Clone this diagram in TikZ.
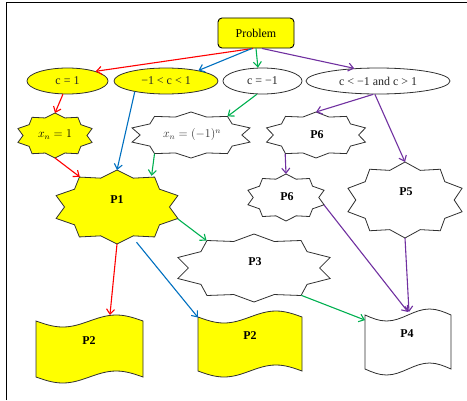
\documentclass[tikz,border=0pt]{standalone}
\usepackage{fontspec}
\setmainfont{Liberation Serif}
\usetikzlibrary{shapes.geometric,arrows.meta}
\definecolor{cred}{HTML}{FF0000}
\definecolor{cblue}{HTML}{0070C0}
\definecolor{cgreen}{HTML}{00B050}
\definecolor{cpurple}{HTML}{7030A0}
\definecolor{cyel}{HTML}{FFFF00}
\definecolor{edgec}{HTML}{303030}
% ten-point burst: cx cy rx ry style
\newcommand\burst[5]{%
  \filldraw[#5] ({#1},{#2+#4})
  \foreach \k in {1,...,19}{ -- ({#1+#3*(0.91+0.09*cos(180*\k))*cos(90+18*\k)},{#2+#4*(0.91+0.09*cos(180*\k))*sin(90+18*\k)}) } -- cycle;}
% wavy document: cx cy w h amplitude style
\newcommand\tape[6]{%
  \filldraw[#6] ({#1-#3/2},{#2+#4/2}) sin ({#1-#3/4},{#2+#4/2-#5}) cos ({#1},{#2+#4/2})
    sin ({#1+#3/4},{#2+#4/2+#5}) cos ({#1+#3/2},{#2+#4/2}) -- ({#1+#3/2},{#2-#4/2})
    sin ({#1+#3/4},{#2-#4/2+#5}) cos ({#1},{#2-#4/2}) sin ({#1-#3/4},{#2-#4/2-#5})
    cos ({#1-#3/2},{#2-#4/2}) -- cycle;}
\tikzset{
  anc/.style={ellipse, inner sep=0pt, outer sep=0pt},
  box/.style={rectangle, inner sep=0pt, outer sep=0pt},
  shapeline/.style={draw=edgec, line width=0.8bp},
  oval/.style={ellipse, draw=edgec, line width=0.8bp, inner sep=0pt, minimum height=26bp, text=black!85},
  lbl/.style={font=\fontsize{12}{14}\selectfont\bfseries},
  conn/.style={line width=1.1bp, -{Straight Barb[length=5bp,width=8bp]}},
}
\begin{document}
\begin{tikzpicture}[x=1bp,y=1bp,font=\fontsize{12}{14}\selectfont]
\useasboundingbox (0,0) rectangle (467,400);
\draw[line width=1bp] (6.5,0) -- (6.5,397.5) -- (467,397.5);

% top
\node[draw=black, fill=cyel, rounded corners=4bp, minimum width=76bp, minimum height=30bp, line width=0.9bp] (prob) at (256,367) {Problem};
\node[oval, fill=cyel, minimum width=81bp] (e1) at (67.5,319) {c = 1};
\node[oval, fill=cyel, minimum width=104bp] (e2) at (166,319) {−1 < c < 1};
\node[oval, fill=white, minimum width=79bp] (e3) at (262.5,319) {c = −1};
\node[oval, fill=white, minimum width=144bp] (e4) at (378,319) {c < −1 and c > 1};

% bursts
\burst{55}{264.5}{39}{22.5}{shapeline, fill=cyel}
\node[anc, minimum width=78bp, minimum height=45bp] (s1) at (55,264.5) {};
\node (s1t) at (55,265) {$x_n = 1$};

\burst{191}{265}{62}{23}{shapeline, fill=white}
\node[anc, minimum width=124bp, minimum height=46bp] (s2) at (191,265) {};
\node[text=black!80] (s2t) at (192,265) {$x_n = (-1)^n$};

\burst{316}{265}{52}{23}{shapeline, fill=white}
\node[anc, minimum width=104bp, minimum height=46bp] (s6a) at (316,265) {};
\node[lbl] (s6at) at (317,265) {P6};

\burst{286}{202.5}{40}{23.5}{shapeline, fill=white}
\node[anc, minimum width=80bp, minimum height=47bp] (s6b) at (286,202.5) {};
\node[lbl] (s6bt) at (287,203) {P6};

\burst{117}{193}{64}{37}{shapeline, fill=cyel}
\node[anc, minimum width=128bp, minimum height=74bp] (P1) at (117,193) {};
\node[lbl] (P1t) at (117,200) {P1};

\burst{405}{200}{60}{38}{shapeline, fill=white}
\node[anc, minimum width=120bp, minimum height=76bp] (P5) at (405,200) {};
\node[lbl] (P5t) at (406,208) {P5};

\burst{254}{132}{80}{34}{shapeline, fill=white}
\node[anc, minimum width=160bp, minimum height=68bp] (P3) at (254,132) {};
\node[lbl] (P3t) at (255,138) {P3};

% documents
\tape{89.5}{51}{107}{56}{6}{shapeline, fill=cyel}
\node[box, minimum width=107bp, minimum height=68bp] (d1) at (89.5,51) {};
\node[lbl] (d1t) at (89,59) {P2};

\tape{250}{56}{104}{54}{6}{shapeline, fill=cyel}
\node[box, minimum width=104bp, minimum height=66bp] (d2) at (250,56) {};
\node[lbl] (d2t) at (250,64) {P2};

\tape{408}{58}{86}{54}{6}{shapeline, fill=white}
\node[box, minimum width=86bp, minimum height=66bp] (d4) at (408,58) {};
\node[lbl] (d4t) at (407,66) {P4};

% connectors
\draw[conn, cred] ([xshift=-3bp]prob.south) -- (e1.19);
\draw[conn, cblue] ([xshift=-4bp]prob.south) -- (e2.18);
\draw[conn, cgreen] (prob.south) -- (e3.109);
\draw[conn, cpurple] ([xshift=6bp]prob.south) -- (e4.152);
\draw[conn, cred] (e1.-109) -- (s1.90);
\draw[conn, cred] (s1.-90) -- (P1.141);
\draw[conn, cblue] (e2.-161) -- (P1.90);
\draw[conn, cgreen] (e3.-113) -- (s2.27);
\draw[conn, cgreen] (s2.-153) -- (P1.42);
\draw[conn, cpurple] (e4.-110) -- (s6a.90);
\draw[conn, cpurple] (e4.-103) -- (P5.90);
\draw[conn, cpurple] (s6a.-149) -- (s6b.90);
\draw[conn, cgreen] (P1.-11) -- (P3.150);
\draw[conn, cred] (P1.-90) -- (d1.59);
\draw[conn, cblue] (P1.-61) -- (d2.153);
\draw[conn, cgreen] (P3.-30) -- (d4.153);
\draw[conn, cpurple] (s6b.-11) -- ([yshift=-3bp]d4.north);
\draw[conn, cpurple] (P5.-90) -- ([xshift=1bp,yshift=-3bp]d4.north);
\end{tikzpicture}
\end{document}
